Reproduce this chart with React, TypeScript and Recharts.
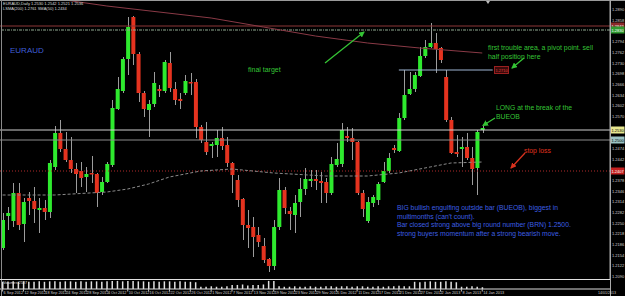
import React from "react";
import { Bar, ComposedChart, Line, ReferenceLine, XAxis, YAxis } from "recharts";

// EURAUD daily, one value per candle
const opens = [
  1.2176, 1.2272, 1.2257, 1.2341, 1.2248, 1.2326, 1.2317, 1.2290, 1.2296, 1.2284,
  1.2419, 1.2521, 1.2473, 1.2440, 1.2413, 1.2407, 1.2389, 1.2401, 1.2398, 1.2344,
  1.2374, 1.2425, 1.2593, 1.2647, 1.2743, 1.2869, 1.2758, 1.2641, 1.2590, 1.2608,
  1.2653, 1.2647, 1.2731, 1.2653, 1.2623, 1.2641, 1.2674, 1.2674, 1.2539, 1.2494,
  1.2482, 1.2485, 1.2506, 1.2485, 1.2431, 1.2380, 1.2323, 1.2245, 1.2239, 1.2215,
  1.2182, 1.2143, 1.2122, 1.2239, 1.2350, 1.2287, 1.2275, 1.2314, 1.2353, 1.2377,
  1.2383, 1.2377, 1.2374, 1.2341, 1.2425, 1.2428, 1.2512, 1.2506, 1.2494, 1.2341,
  1.2257, 1.2311, 1.2320, 1.2374, 1.2407, 1.2476, 1.2467, 1.2566, 1.2638, 1.2653,
  1.2692, 1.2752, 1.2779, 1.2791, 1.2776, 1.2689, 1.2560, 1.2464, 1.2473, 1.2479,
  1.2446, 1.2416, 1.2530,
];
const highs = [
  1.2281, 1.2299, 1.2371, 1.2371, 1.2326, 1.2344, 1.2359, 1.2326, 1.2320, 1.2440,
  1.2542, 1.2560, 1.2524, 1.2509, 1.2431, 1.2434, 1.2419, 1.2452, 1.2401, 1.2389,
  1.2434, 1.2620, 1.2689, 1.2749, 1.2869, 1.2872, 1.2764, 1.2647, 1.2620, 1.2704,
  1.2665, 1.2740, 1.2764, 1.2674, 1.2641, 1.2695, 1.2701, 1.2683, 1.2545, 1.2554,
  1.2494, 1.2530, 1.2539, 1.2509, 1.2434, 1.2395, 1.2326, 1.2290, 1.2269, 1.2239,
  1.2206, 1.2146, 1.2260, 1.2386, 1.2359, 1.2299, 1.2335, 1.2386, 1.2416, 1.2410,
  1.2410, 1.2404, 1.2386, 1.2449, 1.2491, 1.2551, 1.2539, 1.2536, 1.2497, 1.2350,
  1.2329, 1.2335, 1.2374, 1.2434, 1.2461, 1.2485, 1.2581, 1.2710, 1.2704, 1.2704,
  1.2779, 1.2800, 1.2851, 1.2821, 1.2779, 1.2710, 1.2569, 1.2515, 1.2509, 1.2521,
  1.2479, 1.2530, 1.2542,
];
const lows = [
  1.2170, 1.2230, 1.2239, 1.2230, 1.2194, 1.2275, 1.2251, 1.2221, 1.2260, 1.2266,
  1.2410, 1.2464, 1.2434, 1.2401, 1.2341, 1.2359, 1.2344, 1.2371, 1.2299, 1.2335,
  1.2371, 1.2419, 1.2590, 1.2641, 1.2695, 1.2725, 1.2614, 1.2569, 1.2509, 1.2599,
  1.2629, 1.2641, 1.2644, 1.2605, 1.2593, 1.2635, 1.2635, 1.2506, 1.2491, 1.2455,
  1.2446, 1.2449, 1.2470, 1.2419, 1.2341, 1.2299, 1.2200, 1.2176, 1.2149, 1.2179,
  1.2131, 1.2104, 1.2110, 1.2230, 1.2278, 1.2230, 1.2221, 1.2269, 1.2335, 1.2359,
  1.2350, 1.2311, 1.2311, 1.2335, 1.2419, 1.2419, 1.2494, 1.2440, 1.2335, 1.2269,
  1.2251, 1.2299, 1.2305, 1.2371, 1.2401, 1.2461, 1.2464, 1.2560, 1.2635, 1.2644,
  1.2689, 1.2746, 1.2776, 1.2701, 1.2731, 1.2554, 1.2458, 1.2449, 1.2419, 1.2440,
  1.2365, 1.2335, 1.2521,
];
const closes = [
  1.2260, 1.2281, 1.2341, 1.2245, 1.2314, 1.2317, 1.2293, 1.2296, 1.2284, 1.2431,
  1.2521, 1.2473, 1.2440, 1.2413, 1.2398, 1.2386, 1.2398, 1.2398, 1.2341, 1.2374,
  1.2428, 1.2596, 1.2653, 1.2743, 1.2839, 1.2758, 1.2641, 1.2593, 1.2608, 1.2671,
  1.2647, 1.2734, 1.2656, 1.2620, 1.2617, 1.2677, 1.2671, 1.2539, 1.2500, 1.2464,
  1.2488, 1.2506, 1.2482, 1.2431, 1.2395, 1.2320, 1.2245, 1.2236, 1.2209, 1.2194,
  1.2140, 1.2122, 1.2239, 1.2350, 1.2296, 1.2278, 1.2311, 1.2353, 1.2383, 1.2383,
  1.2377, 1.2371, 1.2341, 1.2428, 1.2443, 1.2530, 1.2506, 1.2494, 1.2341, 1.2293,
  1.2314, 1.2329, 1.2368, 1.2407, 1.2446, 1.2470, 1.2566, 1.2635, 1.2653, 1.2695,
  1.2752, 1.2779, 1.2791, 1.2773, 1.2740, 1.2560, 1.2461, 1.2458, 1.2479, 1.2446,
  1.2413, 1.2524, 1.2536,
];
// tick volume, relative to the subwindow height
const volumes = [
  0.8, 0.8, 0.85, 0.8, 0.85, 0.8, 0.8, 0.85, 0.8, 0.85,
  0.85, 0.8, 0.85, 0.85, 0.8, 0.85, 0.8, 0.85, 0.85, 0.8,
  0.85, 0.9, 0.9, 0.85, 0.9, 0.9, 0.85, 0.85, 0.8, 0.85,
  0.8, 0.85, 0.85, 0.8, 0.85, 0.8, 0.8, 0.75, 0.25, 0.25,
  0.3, 0.25, 0.25, 0.3, 0.45, 0.45, 0.5, 0.4, 0.45, 0.45,
  0.5, 0.9, 0.9, 0.3, 0.25, 0.25, 0.3, 0.25, 0.25, 0.3,
  0.25, 0.25, 0.3, 0.3, 0.25, 0.3, 0.3, 0.25, 0.3, 0.3,
  0.25, 0.25, 0.3, 0.25, 0.3, 0.3, 0.35, 0.3, 0.3, 0.8,
  0.75, 0.8, 0.85, 0.8, 0.8, 0.85, 0.8, 0.75, 0.25, 0.25,
  0.3, 0.25, 0.2,
];
// moving averages, read at a few candles
const slowMa: [number, number][] = [
  [0, 1.2944], [12, 1.292], [20, 1.2902], [30, 1.2884], [40, 1.2866],
  [50, 1.2839], [60, 1.2812], [70, 1.2791], [80, 1.2776], [92, 1.2761],
];
const fastMa: [number, number][] = [
  [0, 1.2335], [10, 1.2335], [20, 1.2344], [24, 1.2353], [28, 1.2368],
  [32, 1.2389], [38, 1.2407], [44, 1.2413], [52, 1.2401], [62, 1.2392],
  [70, 1.2392], [76, 1.2401], [82, 1.2419], [86, 1.2431], [92, 1.2434],
];
const dateTicks: [number, string][] = [
  [0, "6 Sep 2012"], [4, "12 Sep 2012"], [8, "18 Sep 2012"], [12, "24 Sep 2012"],
  [16, "28 Sep 2012"], [20, "4 Oct 2012"], [24, "10 Oct 2012"], [28, "16 Oct 2012"],
  [32, "22 Oct 2012"], [36, "26 Oct 2012"], [40, "1 Nov 2012"], [44, "7 Nov 2012"],
  [48, "13 Nov 2012"], [52, "19 Nov 2012"], [56, "23 Nov 2012"], [60, "29 Nov 2012"],
  [64, "5 Dec 2012"], [68, "11 Dec 2012"], [72, "17 Dec 2012"], [76, "21 Dec 2012"],
  [80, "27 Dec 2012"], [84, "2 Jan 2013"], [88, "8 Jan 2013"], [92, "14 Jan 2013"],
];
const priceTicks = [
  1.289, 1.2858, 1.2826, 1.2794, 1.2762, 1.273, 1.2698, 1.2666, 1.2634, 1.2602,
  1.257, 1.2538, 1.2506, 1.2474, 1.2442, 1.241, 1.2378, 1.2346, 1.2314, 1.2282,
  1.225, 1.2218, 1.2186, 1.2154, 1.2122, 1.209,
];
// horizontal lines with their price tags on the axis
const levels = [
  { price: 1.2842, stroke: "#8c3636", dash: undefined, bg: "#8c2a2a", fg: "#fff" },
  { price: 1.283, stroke: "#8fa88f", dash: "3 1 1 1", bg: "#2f9a2f", fg: "#fff" },
  { price: 1.253, stroke: "#cfcfcf", dash: undefined, bg: "#e8e890", fg: "#000" },
  { price: 1.25, stroke: "#8c8c8c", dash: undefined, bg: "#9cc4c4", fg: "#000" },
  { price: 1.2407, stroke: "#b02a2a", dash: "1 2", bg: "#c42020", fg: "#fff" },
];

const SLOTS = 117; // candles plus the empty chart shift on the right
const FONT = "'Liberation Sans', Arial, sans-serif";
const slowMap = new Map(slowMa);
const fastMap = new Map(fastMa);
const dateMap = new Map(dateTicks);

const rows = Array.from({ length: SLOTS }, (_, i) => ({
  i,
  open: opens[i] ?? null,
  high: highs[i] ?? null,
  low: lows[i] ?? null,
  close: closes[i] ?? null,
  vol: volumes[i] ?? null,
  slow: slowMap.get(i) ?? null,
  fast: fastMap.get(i) ?? null,
}));

// axis ticks hidden behind a price tag are dropped
const shownTicks = priceTicks.filter((t) => levels.every((l) => Math.abs(l.price - t) > 0.0013));

function Candle(props: any) {
  const { x, y, width, height, payload } = props;
  if (!payload || payload.open == null) return null;
  const { open, high, low, close } = payload;
  const top = Math.min(y, y + height);
  const h = Math.abs(height);
  const k = h / (high - low || 1e-9);
  const yo = top + (high - open) * k;
  const yc = top + (high - close) * k;
  const cx = Math.round(x + width / 2) + 0.5;
  const up = close >= open;
  return (
    <g>
      <line x1={cx} x2={cx} y1={top} y2={top + h} stroke="#9c9c9c" strokeWidth={1} />
      <rect
        x={x}
        y={Math.min(yo, yc)}
        width={width}
        height={Math.max(Math.abs(yo - yc), 1.5)}
        fill={up ? "#2eea2e" : "#e5331f"}
      />
    </g>
  );
}

function PriceTag(props: any) {
  const { viewBox, value, bg, fg } = props;
  if (!viewBox) return null;
  const x = viewBox.x + viewBox.width;
  return (
    <g>
      <rect x={x + 0.5} y={viewBox.y - 3.5} width={14} height={7} fill={bg} />
      <text x={x + 1.5} y={viewBox.y + 1.6} fontSize={4} fill={fg} fontFamily={FONT}>
        {value}
      </text>
    </g>
  );
}

// axis line sits at y; labels start at the tick, MT4 style
function DateTick(props: any) {
  const { x, y, payload } = props;
  const label = dateMap.get(Number(payload?.value));
  if (!label) return null;
  return (
    <g>
      <line x1={x} x2={x} y1={y} y2={y + 2.5} stroke="#bbb" />
      <text x={x + 1} y={y + 5.3} fontSize={3.8} fill="#d0d0d0" fontFamily={FONT}>
        {label}
      </text>
    </g>
  );
}

const green = "#35c435";

export default function App() {
  return (
    <div style={{ position: "absolute", left: 0, top: 0, width: 625, height: 296, background: "#000", overflow: "hidden" }}>
      <ComposedChart width={625} height={279} data={rows} margin={{ top: 0, right: 0, bottom: 0, left: 0 }}>
        <XAxis dataKey="i" type="category" hide />
        <YAxis
          orientation="right"
          width={15}
          domain={[1.2083, 1.292]}
          allowDataOverflow
          ticks={shownTicks}
          interval={0}
          tickFormatter={(v: number) => v.toFixed(4)}
          tick={{ fontSize: 4, fill: "#d0d0d0", fontFamily: FONT }}
          tickSize={1}
          tickMargin={1}
          tickLine={{ stroke: "#aaa" }}
          axisLine={{ stroke: "#aaa" }}
        />
        {levels.map((l) => (
          <ReferenceLine
            key={l.price}
            y={l.price}
            stroke={l.stroke}
            strokeDasharray={l.dash}
            label={<PriceTag value={l.price.toFixed(4)} bg={l.bg} fg={l.fg} />}
          />
        ))}
        <ReferenceLine segment={[{ x: 76, y: 1.271 }, { x: 94, y: 1.271 }]} stroke="#9fb6d4" />
        <Line dataKey="slow" stroke="#8a3a46" strokeWidth={1} dot={false} connectNulls isAnimationActive={false} />
        <Line dataKey="fast" stroke="#8a8a8a" strokeWidth={1} strokeDasharray="3 2" dot={false} connectNulls isAnimationActive={false} />
        <Bar
          dataKey={(d: any) => (d.high == null ? null : [d.low, d.high])}
          barSize={4}
          shape={(p: any) => <Candle {...p} />}
          isAnimationActive={false}
        />
      </ComposedChart>

      <div style={{ position: "absolute", left: 0, top: 279 }}>
        <ComposedChart width={625} height={17} data={rows} margin={{ top: 1, right: 15, bottom: 0, left: 0 }}>
          <XAxis
            dataKey="i"
            type="category"
            interval={3}
            height={7}
            axisLine={{ stroke: "#ddd" }}
            tickLine={false}
            tickSize={0}
            tickMargin={0}
            tick={(p: any) => <DateTick {...p} />}
          />
          <YAxis hide domain={[0, 1]} />
          <Bar dataKey="vol" fill="#e0e0e0" barSize={1.5} isAnimationActive={false} />
        </ComposedChart>
      </div>

      {/* window frame */}
      <div style={{ position: "absolute", left: 0, top: 0, width: 625, height: 1, background: "#9a9a9a" }} />
      <div style={{ position: "absolute", left: 1, top: 0, width: 1, height: 296, background: "#8a8a8a" }} />
      <div style={{ position: "absolute", left: 0, top: 279, width: 610, height: 1, background: "#e0e0e0" }} />
      <div style={{ position: "absolute", left: 610, top: 0, width: 1, height: 296, background: "#aaa" }} />

      <svg width={625} height={296} style={{ position: "absolute", left: 0, top: 0, pointerEvents: "none" }}>
        <defs>
          <marker id="hg" markerWidth="6" markerHeight="6" refX="5" refY="3" orient="auto" markerUnits="userSpaceOnUse">
            <path d="M0,0 L6,3 L0,6 z" fill={green} />
          </marker>
          <marker id="hr" markerWidth="6" markerHeight="6" refX="5" refY="3" orient="auto" markerUnits="userSpaceOnUse">
            <path d="M0,0 L6,3 L0,6 z" fill="#d8321e" />
          </marker>
        </defs>
        <g fontFamily={FONT}>
          <text x={3} y={5} fontSize={4} fill="#ddd">EURAUD,Daily  1.2530 1.2542 1.2521 1.2536</text>
          <text x={3} y={9.5} fontSize={4} fill="#ddd">LSMA(200) 1.2761  SMA(50) 1.2434</text>
          <text x={3} y={284} fontSize={3.8} fill="#ddd">Volumes 2587</text>
          <polygon points="486,1 490,1 488,4" fill="#bbb" />

          <text x={10} y={53} fontSize={8} fill="#3f5fd8">EURAUD</text>
          <text x={248} y={72} fontSize={7} fill={green}>final target</text>
          <text x={488} y={50} fontSize={6.9} fill={green}>first trouble area, a pivot point. sell</text>
          <text x={488} y={58.5} fontSize={6.9} fill={green}>half position here</text>
          <text x={496} y={110} fontSize={6.8} fill={green}>LONG at the break of the</text>
          <text x={496} y={118.5} fontSize={6.8} fill={green}>BUEOB</text>
          <text x={524} y={153} fontSize={6.8} fill="#e0321e">stop loss</text>
          <text x={397} y={210} fontSize={6.8} fill="#3c5fe0">BIG bullish engulfing outside bar (BUEOB), biggest in</text>
          <text x={397} y={218.7} fontSize={6.8} fill="#3c5fe0">multimonths (can't count).</text>
          <text x={397} y={227.4} fontSize={6.8} fill="#3c5fe0">Bar closed strong above big round number (BRN) 1.2500.</text>
          <text x={397} y={236.1} fontSize={6.8} fill="#3c5fe0">strong buyers momentum after a strong bearish move.</text>

          <rect x={494.5} y={66.5} width={14} height={7} fill="#3a0a0a" stroke="#9a2020" />
          <text x={495.5} y={72} fontSize={4} fill="#e04040">1.2710</text>

          <line x1={325} y1={63} x2={364} y2={32} stroke={green} strokeWidth={1.3} markerEnd="url(#hg)" />
          <line x1={524} y1={58} x2={512} y2={68} stroke={green} strokeWidth={1.3} markerEnd="url(#hg)" />
          <line x1={495} y1={118} x2={483} y2={125.5} stroke={green} strokeWidth={1.3} markerEnd="url(#hg)" />
          <line x1={525} y1={153} x2={511} y2={168} stroke="#d8321e" strokeWidth={1.3} markerEnd="url(#hr)" />

          <text x={598} y={294} fontSize={3.6} fill="#ccc">14/01/2013</text>
        </g>
      </svg>
    </div>
  );
}
